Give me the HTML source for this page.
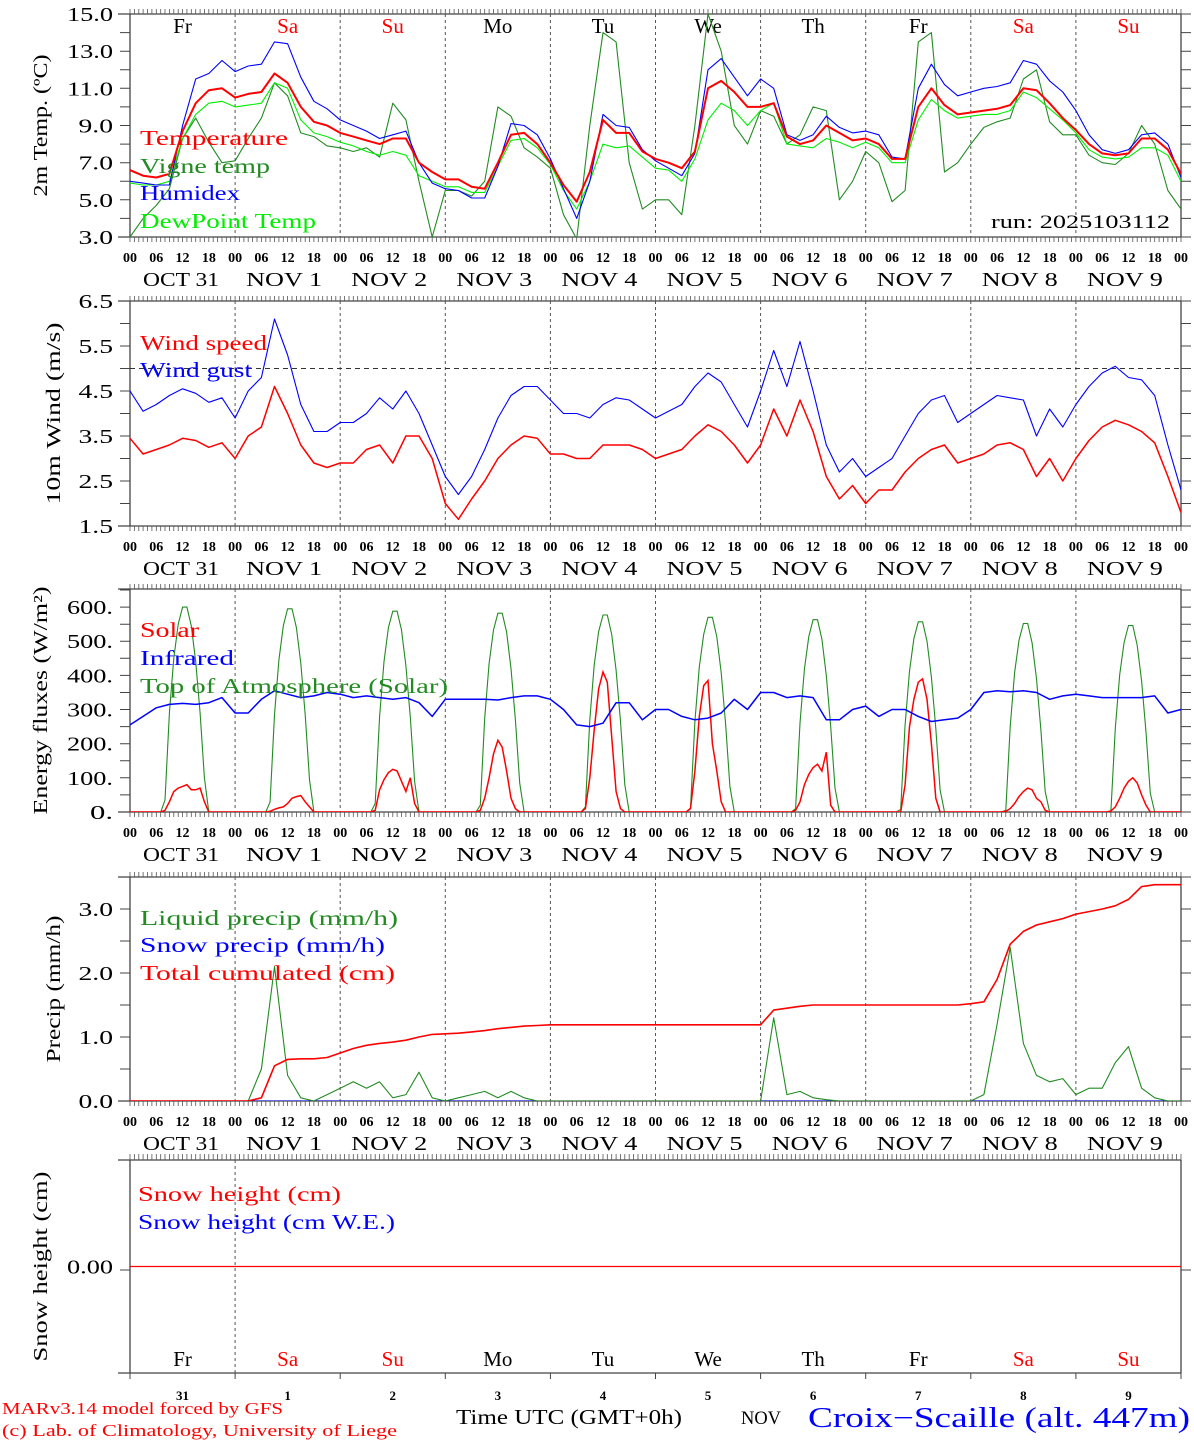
<!DOCTYPE html>
<html><head><meta charset="utf-8"><style>
html,body{margin:0;padding:0;background:#fff;}
svg{display:block;font-family:"Liberation Serif",serif;}
</style></head><body>
<svg id="chart" width="1194" height="1440" viewBox="0 0 1194 1440" xmlns="http://www.w3.org/2000/svg"></svg>
<script>
// ---- data (3-hourly, 81 values from Oct31 00 to Nov10 00) ----
const temperature=[6.6,6.3,6.2,6.4,8.7,10.2,10.9,11.0,10.5,10.7,10.8,11.8,11.3,10.0,9.2,9.0,8.6,8.4,8.2,8.0,8.3,8.3,7.0,6.5,6.1,6.1,5.7,5.6,7.0,8.5,8.6,8.0,7.0,5.8,4.9,6.5,9.3,8.6,8.6,7.6,7.2,7.0,6.7,7.6,11.0,11.4,10.8,10.0,10.0,10.2,8.4,8.0,8.2,9.0,8.6,8.2,8.3,8.0,7.2,7.2,10.0,11.0,10.1,9.6,9.7,9.8,9.9,10.1,11.0,10.9,10.2,9.4,8.75,8.0,7.5,7.4,7.5,8.3,8.3,7.7,6.4];
const humidex=[6.0,5.9,5.8,5.8,9.0,11.5,11.8,12.5,11.9,12.2,12.3,13.5,13.4,11.6,10.3,9.9,9.3,9.0,8.7,8.3,8.5,8.7,7.0,5.9,5.6,5.5,5.1,5.1,6.8,9.1,9.0,8.5,7.2,5.6,4.0,6.0,9.6,9.0,8.9,7.7,7.1,6.7,6.3,7.5,12.0,12.6,11.6,10.6,11.5,11.0,8.5,8.2,8.5,9.5,8.9,8.6,8.7,8.5,7.3,7.2,11.0,12.3,11.2,10.6,10.8,11.0,11.1,11.3,12.5,12.3,11.4,10.8,9.8,8.5,7.7,7.5,7.7,8.5,8.6,8.0,6.2];
const dewpoint=[5.9,5.8,5.8,6.0,8.3,9.6,10.2,10.3,10.0,10.1,10.2,11.3,11.0,9.3,8.6,8.4,8.1,7.9,7.6,7.4,7.6,7.4,6.3,6.0,5.7,5.7,5.4,5.4,6.8,8.2,8.3,7.8,6.9,5.5,4.5,6.0,8.0,7.8,7.9,7.3,6.7,6.6,6.0,7.2,9.3,10.2,9.8,9.0,9.8,10.2,8.0,7.9,7.8,8.3,8.1,7.8,8.1,7.8,7.0,7.0,9.3,10.4,9.8,9.4,9.5,9.6,9.6,9.8,10.8,10.5,9.9,9.3,8.6,7.7,7.3,7.2,7.3,7.8,7.8,7.4,6.0];
const vigne=[3.0,4.0,4.7,5.6,8.3,9.4,8.1,7.0,7.1,8.3,9.4,11.3,10.6,8.6,8.4,7.9,7.8,7.6,7.8,7.3,10.2,9.3,6.0,3.0,5.5,5.5,5.2,6.0,10.0,9.5,7.8,7.3,6.7,4.2,2.9,9.0,14.0,13.5,7.0,4.5,5.0,5.0,4.2,9.0,15.0,13.0,9.0,8.0,9.8,9.5,8.0,8.5,10.0,9.8,5.0,6.0,7.6,7.0,4.9,5.5,13.5,14.0,6.5,7.0,8.0,8.9,9.2,9.4,11.5,12.0,9.2,8.5,8.5,7.4,7.0,6.9,7.5,9.0,8.0,5.5,4.5];
const windSpeed=[3.45,3.1,3.2,3.3,3.45,3.4,3.25,3.35,3.0,3.5,3.7,4.6,4.0,3.3,2.9,2.8,2.9,2.9,3.2,3.3,2.9,3.5,3.5,3.0,2.0,1.65,2.1,2.5,3.0,3.3,3.5,3.45,3.1,3.1,3.0,3.0,3.3,3.3,3.3,3.2,3.0,3.1,3.2,3.5,3.75,3.6,3.3,2.9,3.3,4.1,3.5,4.3,3.6,2.6,2.1,2.4,2.0,2.3,2.3,2.7,3.0,3.2,3.3,2.9,3.0,3.1,3.3,3.35,3.2,2.6,3.0,2.5,3.0,3.4,3.7,3.85,3.75,3.6,3.35,2.6,1.8];
const windGust=[4.5,4.05,4.2,4.4,4.55,4.45,4.25,4.35,3.9,4.5,4.8,6.1,5.3,4.2,3.6,3.6,3.8,3.8,4.0,4.35,4.1,4.5,4.0,3.3,2.6,2.2,2.6,3.2,3.9,4.4,4.6,4.6,4.3,4.0,4.0,3.9,4.2,4.35,4.3,4.1,3.9,4.05,4.2,4.6,4.9,4.7,4.2,3.7,4.5,5.4,4.6,5.6,4.5,3.3,2.7,3.0,2.6,2.8,3.0,3.5,4.0,4.3,4.4,3.8,4.0,4.2,4.4,4.35,4.3,3.5,4.1,3.7,4.2,4.6,4.9,5.05,4.8,4.75,4.4,3.3,2.3];
const infrared=[255,280,305,315,318,315,320,335,290,290,330,355,345,335,340,350,345,335,340,335,330,335,320,280,330,330,330,330,328,335,340,340,330,300,255,250,260,320,320,270,300,300,280,270,275,290,330,300,350,350,335,340,335,270,270,300,310,280,300,300,280,265,270,275,300,350,355,352,355,350,330,340,345,340,335,335,335,335,340,290,300];
// hourly daytime values, hours 07..18, one array per day
const toaDays=[[0,35,290,450,550,600,600,545,440,290,100,0],[0,30,285,445,545,595,595,540,435,285,95,0],[0,25,280,440,540,588,588,533,428,278,90,0],[0,20,275,435,533,582,582,527,420,270,85,0],[0,15,270,430,528,577,577,520,415,265,80,0],[0,12,265,425,520,570,570,513,408,258,75,0],[0,10,260,418,514,563,563,506,400,250,70,0],[0,8,255,413,508,557,557,500,395,245,65,0],[0,5,250,408,503,552,552,495,390,240,60,0],[0,3,245,402,497,546,546,488,384,234,55,0]];
const solarDays=[[0,5,30,60,70,75,80,65,65,70,30,0],[0,2,8,12,15,25,40,45,48,30,15,0],[0,5,65,95,115,125,120,90,60,100,25,0],[0,5,40,100,170,210,190,120,40,10,0,0],[0,10,100,240,360,410,380,220,60,10,0,0],[0,10,120,280,370,385,200,120,30,0,0,0],[0,5,30,80,110,130,140,120,175,20,0,0],[0,0,80,250,330,380,390,330,200,40,0,0],[0,2,10,25,45,60,70,65,40,30,5,0],[0,3,15,40,70,90,100,85,50,20,0,0]];
const liquidPrecip=[0,0,0,0,0,0,0,0,0,0,0.5,2.1,0.4,0.05,0,0.1,0.2,0.3,0.2,0.3,0.05,0.1,0.45,0.05,0,0.05,0.1,0.15,0.05,0.15,0.05,0,0,0,0,0,0,0,0,0,0,0,0,0,0,0,0,0,0,1.3,0.1,0.15,0.05,0.02,0,0,0,0,0,0,0,0,0,0,0,0.1,1.2,2.4,0.9,0.4,0.3,0.35,0.1,0.2,0.2,0.6,0.85,0.2,0.05,0,0];
const snowPrecip=new Array(81).fill(0);
const cumulated=[0,0,0,0,0,0,0,0,0,0,0.05,0.55,0.65,0.66,0.66,0.68,0.75,0.82,0.87,0.9,0.92,0.95,1.0,1.04,1.05,1.06,1.08,1.1,1.13,1.15,1.17,1.18,1.19,1.19,1.19,1.19,1.19,1.19,1.19,1.19,1.19,1.19,1.19,1.19,1.19,1.19,1.19,1.19,1.19,1.42,1.45,1.48,1.5,1.5,1.5,1.5,1.5,1.5,1.5,1.5,1.5,1.5,1.5,1.5,1.52,1.55,1.9,2.45,2.65,2.75,2.8,2.85,2.92,2.96,3.0,3.05,3.15,3.35,3.38,3.38,3.38];
const snowHeight=new Array(81).fill(0);
const dayNames=["Fr","Sa","Su","Mo","Tu","We","Th","Fr","Sa","Su"];
const dayNums=["31","1","2","3","4","5","6","7","8","9"];
const dateLabels=["OCT 31","NOV   1","NOV   2","NOV   3","NOV   4","NOV   5","NOV   6","NOV   7","NOV   8","NOV   9"];
const hourLabels=["00","06","12","18"];
const tempTicks=["15.0","13.0","11.0","9.0","7.0","5.0","3.0"];
const windTicks=["6.5","5.5","4.5","3.5","2.5","1.5"];
const fluxTicks=["600.","500.","400.","300.","200.","100.","0."];
const precipTicks=["3.0","2.0","1.0","0.0"];

// ---- drawing ----
const svg=document.getElementById('chart');
const NS="http://www.w3.org/2000/svg";
const X0=130,XW=1051;
function xh(h){return X0+h*XW/240;}
function el(tag,attrs,parent){const e=document.createElementNS(NS,tag);for(const k in attrs)e.setAttribute(k,attrs[k]);(parent||svg).appendChild(e);return e;}
function txt(s,x,y,size,fill,anchor,len,parent){const t=el('text',{x:x,y:y,'font-size':size,fill:fill||'#000','text-anchor':anchor||'start'},parent);if(len){t.setAttribute('textLength',len);t.setAttribute('lengthAdjust','spacingAndGlyphs');}t.setAttribute('xml:space','preserve');t.textContent=s;return t;}
const RED='#ff0000',BLUE='#0000ff',DG='#228b22',LIME='#00ee00',AX='#444';

function panel(name,top,bot,vmin,vmax,minorStep,labels,labelVals,title,titleX,titleLen,hourTicks){
  const g=el('g',{});
  
  
  const y=v=>bot-(v-vmin)*(bot-top)/(vmax-vmin);
  const cid='clip-'+name;
  const cp=el('clipPath',{id:cid},g);el('rect',{x:X0,y:top,width:XW,height:bot-top},cp);
  el('line',{x1:X0,y1:top,x2:X0,y2:bot,stroke:AX,'stroke-width':1.3},g);
  el('line',{x1:X0+XW,y1:top,x2:X0+XW,y2:bot,stroke:AX,'stroke-width':1.3},g);
  el('line',{x1:118,y1:top,x2:X0+XW,y2:top,stroke:AX,'stroke-width':1.3},g);
  el('line',{x1:118,y1:bot,x2:X0+XW,y2:bot,stroke:AX,'stroke-width':1.3},g);
  if(hourTicks){
    let d='';
    for(let h=0;h<=240;h++){const x=xh(h).toFixed(1);d+=`M${x} ${top-5}V${top}M${x} ${bot}V${bot+5}`;}
    el('path',{d:d,stroke:'#555','stroke-width':0.8,fill:'none'},g);
    for(let dd=0;dd<10;dd++){
      for(let k=0;k<4;k++)txt(hourLabels[k],xh(dd*24+k*6),bot+25,14,'#000','middle',null,g).setAttribute('font-weight','bold');
      txt(dateLabels[dd],xh(dd*24)+(dd==0?13:11),bot+49,20,'#000','start',76,g);
    }
    txt("00",xh(240),bot+25,14,'#000','middle',null,g).setAttribute('font-weight','bold');
    for(let dd=1;dd<10;dd++)el('line',{x1:xh(dd*24),y1:top,x2:xh(dd*24),y2:bot,stroke:'#555','stroke-width':1,'stroke-dasharray':'3,3'},g);
  }
  if(minorStep){let d='';for(let v=vmin;v<=vmax+1e-6;v+=minorStep){const yy=y(v).toFixed(1);d+=`M120 ${yy}H${X0}M${X0+XW} ${yy}H${X0+XW+10}`;}el('path',{d:d,stroke:AX,'stroke-width':1,fill:'none'},g);}
  labels.forEach((s,i)=>txt(s,113,y(labelVals[i])+7,20,'#000','end',s.length*11.5,g));
  const tt=txt(title,0,0,20,'#000','middle',titleLen,g);tt.setAttribute('transform',`translate(${titleX},${(top+bot)/2}) rotate(-90)`);
  return {g,y,cid};
}
function series(p,vals,color,w,name){
  const d=vals.map((v,i)=>(i?'L':'M')+xh(i*3).toFixed(1)+' '+p.y(v).toFixed(1)).join('');
  const path=el('path',{d:d,stroke:color,'stroke-width':w,fill:'none','clip-path':`url(#${p.cid})`,'stroke-linejoin':'round'},p.g);
  
  
}
function hourlySeries(p,days,color,w,name){
  let pts=[];
  for(let dd=0;dd<10;dd++){for(let h=0;h<24;h++){const k=h-7;const v=(k>=0&&k<12)?days[dd][k]:0;pts.push([dd*24+h,v]);}}
  pts.push([240,0]);
  const d=pts.map((q,i)=>(i?'L':'M')+xh(q[0]).toFixed(1)+' '+p.y(q[1]).toFixed(1)).join('');
  const path=el('path',{d:d,stroke:color,'stroke-width':w,fill:'none','clip-path':`url(#${p.cid})`},p.g);
  
  
}
function legend(p,s,x,y,color,len,name){const t=txt(s,x,y,21,color,'start',len,p.g);}

// Panel 1 temperature
const p1=panel('temperature-panel',14,237,3,15,1,tempTicks,[15,13,11,9,7,5,3],'2m Temp. (\u00baC)',47,142,true);
for(let dd=0;dd<10;dd++){const c=(dd==1||dd==2||dd==8||dd==9)?RED:'#000';txt(dayNames[dd],xh(dd*24+12),33,21,c,'middle',null,p1.g);}
series(p1,vigne,DG,1.1,'vigne-temp-line');
series(p1,dewpoint,LIME,1.1,'dewpoint-line');
series(p1,humidex,BLUE,1.1,'humidex-line');
series(p1,temperature,RED,2,'temperature-line');
legend(p1,'Temperature',140,145,RED,148,'legend-temperature');
legend(p1,'Vigne temp',140,173,DG,130,'legend-vigne');
legend(p1,'Humidex',140,200,BLUE,100,'legend-humidex');
legend(p1,'DewPoint Temp',140,228,LIME,176,'legend-dewpoint');
txt('run: 2025103112',991,228,19,'#000','start',179,p1.g);

// Panel 2 wind
const p2=panel('wind-panel',301,526,1.5,6.5,0.5,windTicks,[6.5,5.5,4.5,3.5,2.5,1.5],'10m Wind (m/s)',60,182,true);
el('line',{x1:X0,y1:p2.y(5),x2:X0+XW,y2:p2.y(5),stroke:'#333','stroke-width':1,'stroke-dasharray':'5,4'},p2.g);
series(p2,windGust,BLUE,1.1,'wind-gust-line');
series(p2,windSpeed,RED,1.5,'wind-speed-line');
legend(p2,'Wind speed',140,350,RED,127,'legend-wind-speed');
legend(p2,'Wind gust',140,377,BLUE,112,'legend-wind-gust');

// Panel 3 energy
const p3=panel('energy-panel',589,812,0,653,50,fluxTicks,[600,500,400,300,200,100,0],'Energy fluxes (W/m\u00b2)',47,228,true);
hourlySeries(p3,toaDays,DG,1.1,'toa-solar-line');
hourlySeries(p3,solarDays,RED,1.5,'solar-line');
series(p3,infrared,BLUE,1.5,'infrared-line');
legend(p3,'Solar',140,637,RED,59,'legend-solar');
legend(p3,'Infrared',140,665,BLUE,94,'legend-infrared');
legend(p3,'Top of Atmosphere (Solar)',140,693,DG,308,'legend-toa');

// Panel 4 precip
const p4=panel('precip-panel',877,1101,0,3.5,0.5,precipTicks,[3,2,1,0],'Precip (mm/h)',60,147,true);
series(p4,snowPrecip,BLUE,1.1,'snow-precip-line');
series(p4,liquidPrecip,DG,1.1,'liquid-precip-line');
series(p4,cumulated,RED,1.6,'cumulated-line');
legend(p4,'Liquid precip (mm/h)',140,925,DG,258,'legend-liquid');
legend(p4,'Snow precip (mm/h)',140,952,BLUE,245,'legend-snow-precip');
legend(p4,'Total cumulated (cm)',140,980,RED,255,'legend-total');

// Panel 5 snow height
const p5=panel('snow-panel',1160,1373,-1,1,0,['0.00'],[0],'Snow height (cm)',47,190,false);
{let d='';for(let h=0;h<=240;h++){const x=xh(h).toFixed(1);d+=`M${x} 1154V1160`;}el('path',{d:d,stroke:'#555','stroke-width':0.8,fill:'none'},p5.g);}
el('line',{x1:120,y1:1270,x2:X0,y2:1270,stroke:AX},p5.g);
el('line',{x1:X0+XW,y1:1270,x2:X0+XW+10,y2:1270,stroke:AX},p5.g);
el('line',{x1:xh(24),y1:1160,x2:xh(24),y2:1373,stroke:'#555','stroke-width':1,'stroke-dasharray':'3,3'},p5.g);
for(let dd=0;dd<=10;dd++)el('line',{x1:xh(dd*24),y1:1373,x2:xh(dd*24),y2:1379,stroke:AX},p5.g);
series(p5,snowHeight,RED,1.3,'snow-height-line');
for(let dd=0;dd<10;dd++){const c=(dd==1||dd==2||dd==8||dd==9)?RED:'#000';txt(dayNames[dd],xh(dd*24+12),1366,21,c,'middle',null,p5.g);
  const n=txt(dayNums[dd],xh(dd*24+12),1400,13,'#000','middle',null,p5.g);n.setAttribute('font-weight','bold');}
legend(p5,'Snow height (cm)',138,1201,RED,203,'legend-snow-height');
legend(p5,'Snow height (cm W.E.)',138,1229,BLUE,257,'legend-snow-we');

// footer
txt('MARv3.14 model forced by GFS',2,1414,17,RED,'start',281);
txt('(c) Lab. of Climatology, University of Liege',2,1436,17,RED,'start',395);
txt('Time UTC (GMT+0h)',456,1424,21,'#000','start',226);
txt('NOV',741,1424,19,'#000','start',40);
txt('Croix\u2212Scaille (alt. 447m)',808,1427,28,BLUE,'start',382);
</script>
</body></html>
